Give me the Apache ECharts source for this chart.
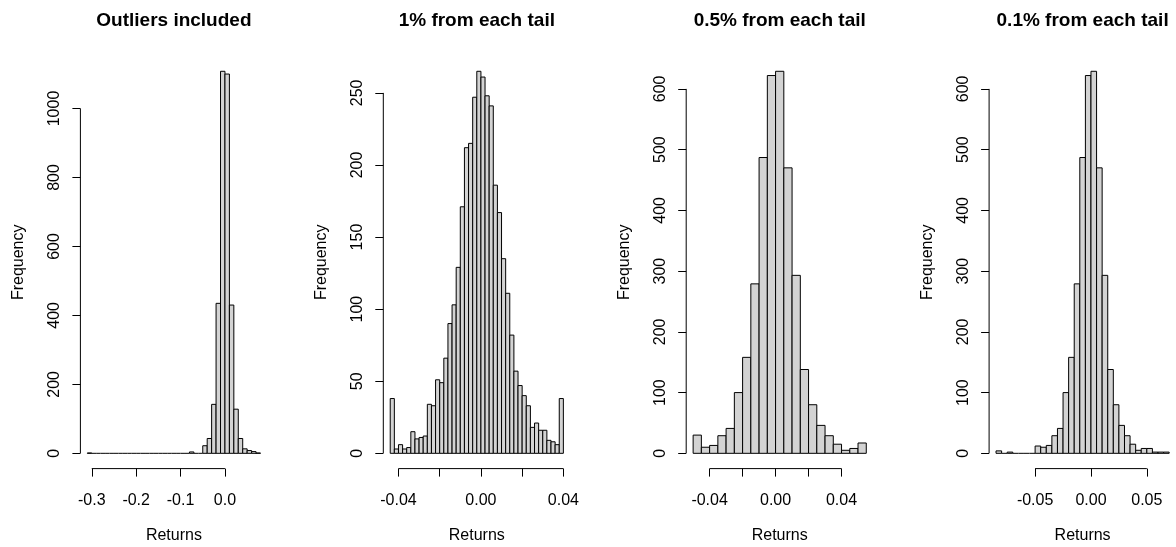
<!DOCTYPE html>
<html>
<head>
<meta charset="utf-8">
<title>Return histograms</title>
<script src="https://cdn.jsdelivr.net/npm/echarts@6/dist/echarts.min.js"></script>
<style>
  html, body { margin: 0; padding: 0; background: #fff; }
  #chart { width: 1176px; height: 547px; }
</style>
</head>
<body>
<div id="chart"></div>
<script>
// ---- Panel titles ----
const titles = ['Outliers included', '1% from each tail', '0.5% from each tail', '0.1% from each tail'];

// ---- Panel 1: all returns, bins of 0.01 starting at -0.31 ----
const p1BinStart = -0.31;
const p1BinWidth = 0.01;
const p1Counts = [1, 0, 0, 0, 0, 0, 0, 0, 0, 0, 0, 0, 0, 0, 0, 0, 0, 0, 0, 0, 0, 0, 0,
                  4, 0, 0, 22, 43, 142, 435, 1108, 1100, 430, 128, 43, 13, 8, 5, 1];
const p1XTicks = [-0.3, -0.2, -0.1, 0.0];
const p1XLabelValues = [-0.3, -0.2, -0.1, 0.0];
const p1XLabels = ['-0.3', '-0.2', '-0.1', '0.0'];
const p1YTicks = [0, 200, 400, 600, 800, 1000];

// ---- Panel 2: 1% trimmed from each tail, bins of 0.002 starting at -0.044 ----
const p2BinStart = -0.044;
const p2BinWidth = 0.002;
const p2Counts = [38, 3, 6, 3, 4, 15, 10, 11, 12, 34, 33, 51, 49, 66, 90, 103, 129, 171, 212, 215, 247,
                  265, 261, 248, 241, 186, 167, 135, 111, 82, 57, 47, 40, 33, 18, 21, 16, 16, 9, 8, 6, 38];
const p2XTicks = [-0.04, -0.02, 0.0, 0.02, 0.04];
const p2XLabelValues = [-0.04, 0.0, 0.04];
const p2XLabels = ['-0.04', '0.00', '0.04'];
const p2YTicks = [0, 50, 100, 150, 200, 250];

// ---- Panel 3: 0.5% trimmed from each tail, bins of 0.005 starting at -0.05 ----
const p3BinStart = -0.05;
const p3BinWidth = 0.005;
const p3Counts = [30, 10, 13, 29, 41, 100, 158, 279, 487, 622, 629, 470, 293, 138, 80, 46, 29, 15, 5, 8, 17];
const p3XTicks = [-0.04, -0.02, 0.0, 0.02, 0.04];
const p3XLabelValues = [-0.04, 0.0, 0.04];
const p3XLabels = ['-0.04', '0.00', '0.04'];
const p3YTicks = [0, 100, 200, 300, 400, 500, 600];

// ---- Panel 4: 0.1% trimmed from each tail, bins of 0.005 starting at -0.085 ----
const p4BinStart = -0.085;
const p4BinWidth = 0.005;
const p4Counts = [4, 0, 2, 0, 0, 0, 0, 12, 10, 13, 29, 41, 100, 158, 279, 487, 622,
                  629, 470, 293, 138, 80, 46, 29, 15, 5, 8, 8, 2, 2, 2];
const p4XTicks = [-0.05, 0.0, 0.05];
const p4XLabelValues = [-0.05, 0.0, 0.05];
const p4XLabels = ['-0.05', '0.00', '0.05'];
const p4YTicks = [0, 100, 200, 300, 400, 500, 600];

const panels = [
  { start: p1BinStart, width: p1BinWidth, counts: p1Counts, xTicks: p1XTicks, xLabelValues: p1XLabelValues, xLabels: p1XLabels, yTicks: p1YTicks },
  { start: p2BinStart, width: p2BinWidth, counts: p2Counts, xTicks: p2XTicks, xLabelValues: p2XLabelValues, xLabels: p2XLabels, yTicks: p2YTicks },
  { start: p3BinStart, width: p3BinWidth, counts: p3Counts, xTicks: p3XTicks, xLabelValues: p3XLabelValues, xLabels: p3XLabels, yTicks: p3YTicks },
  { start: p4BinStart, width: p4BinWidth, counts: p4Counts, xTicks: p4XTicks, xLabelValues: p4XLabelValues, xLabels: p4XLabels, yTicks: p4YTicks }
];

// ---- Layout ----
const FONT = "'Liberation Sans', Arial, Helvetica, sans-serif";
const PLOT_LEFT0 = 80.4;
const PLOT_STEP = 302.9;
const PLOT_W = 187;
const PLOT_TOP = 56;
const PLOT_H = 412.6;
const PAD = 0.04; // axis range padding on each side, as a share of the data range

const grids = [], xAxes = [], yAxes = [], series = [], titleOpts = [];

panels.forEach((p, i) => {
  const n = p.counts.length;
  const lo = p.start;
  const hi = p.start + n * p.width;
  const xSpan = hi - lo;
  const xMin = lo - PAD * xSpan;
  const xMax = hi + PAD * xSpan;
  const cMax = Math.max.apply(null, p.counts);
  const yMin = -PAD * cMax;
  const yMax = cMax + PAD * cMax;
  const left = PLOT_LEFT0 + i * PLOT_STEP;

  grids.push({ left: left, top: PLOT_TOP, width: PLOT_W, height: PLOT_H, outerBoundsMode: 'none' });

  titleOpts.push({
    text: titles[i],
    left: left + PLOT_W / 2,
    top: 11,
    textAlign: 'center',
    padding: 0,
    textStyle: { fontFamily: FONT, fontSize: 19, fontWeight: 'bold', color: '#000' }
  });

  const labelFmt = (v) => {
    const k = p.xLabelValues.findIndex(t => Math.abs(t - v) < 1e-9);
    return k >= 0 ? p.xLabels[k] : '';
  };

  xAxes.push({
    type: 'value', gridIndex: i, min: xMin, max: xMax,
    axisLine: { show: false, onZero: false },
    splitLine: { show: false },
    axisTick: { show: true, customValues: p.xTicks, length: 8, lineStyle: { color: '#000', width: 1 } },
    axisLabel: { show: true, customValues: p.xLabelValues, formatter: labelFmt, margin: 24,
                 fontFamily: FONT, fontSize: 16, color: '#000' },
    name: 'Returns', nameLocation: 'middle', nameGap: 59,
    nameTextStyle: { fontFamily: FONT, fontSize: 16, color: '#000' }
  });

  yAxes.push({
    type: 'value', gridIndex: i, min: yMin, max: yMax,
    axisLine: { show: false, onZero: false },
    splitLine: { show: false },
    axisTick: { show: true, customValues: p.yTicks, length: 8, lineStyle: { color: '#000', width: 1 } },
    axisLabel: { show: true, customValues: p.yTicks, rotate: 90, margin: 18,
                 formatter: (v) => String(v),
                 fontFamily: FONT, fontSize: 16, color: '#000' },
    name: 'Frequency', nameLocation: 'middle', nameRotate: 90, nameGap: 54,
    nameTextStyle: { fontFamily: FONT, fontSize: 16, color: '#000' }
  });

  // histogram bins: [left edge, right edge, count]
  const bins = p.counts.map((c, k) => [p.start + k * p.width, p.start + (k + 1) * p.width, c]);

  series.push({
    type: 'custom', xAxisIndex: i, yAxisIndex: i, data: bins, silent: true,
    encode: { x: [0, 1], y: 2 },
    renderItem: (params, api) => {
      const a = api.coord([api.value(0), 0]);
      const b = api.coord([api.value(1), api.value(2)]);
      if (api.value(2) === 0) {
        return { type: 'line', shape: { x1: a[0], y1: a[1], x2: b[0], y2: a[1] },
                 style: { stroke: '#000', lineWidth: 1 } };
      }
      return { type: 'rect', shape: { x: a[0], y: b[1], width: b[0] - a[0], height: a[1] - b[1] },
               style: { fill: '#D3D3D3', stroke: '#000', lineWidth: 1 } };
    }
  });

  // x axis line spans the first to the last tick
  series.push({
    type: 'line', xAxisIndex: i, yAxisIndex: i, silent: true, clip: false,
    symbol: 'none', lineStyle: { color: '#000', width: 1 },
    data: [[p.xTicks[0], yMin], [p.xTicks[p.xTicks.length - 1], yMin]]
  });
  // y axis line spans the first to the last tick
  series.push({
    type: 'line', xAxisIndex: i, yAxisIndex: i, silent: true, clip: false,
    symbol: 'none', lineStyle: { color: '#000', width: 1 },
    data: [[xMin, p.yTicks[0]], [xMin, p.yTicks[p.yTicks.length - 1]]]
  });
});

const chart = echarts.init(document.getElementById('chart'), null, { renderer: 'canvas' });
chart.setOption({
  animation: false,
  backgroundColor: '#fff',
  title: titleOpts,
  grid: grids,
  xAxis: xAxes,
  yAxis: yAxes,
  series: series
});
</script>
</body>
</html>
